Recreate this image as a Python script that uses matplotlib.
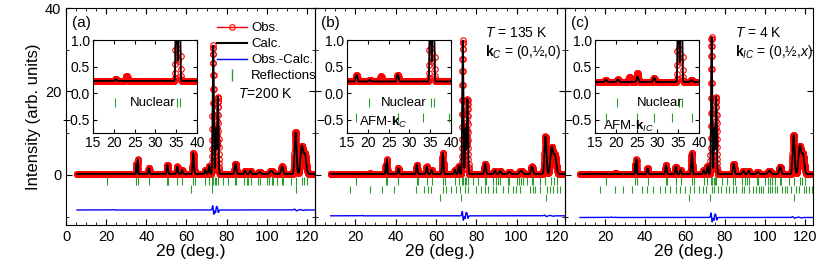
import numpy as np
import matplotlib.pyplot as plt
from matplotlib.ticker import MultipleLocator
from matplotlib.lines import Line2D

plt.rcParams['font.family'] = ['Liberation Sans', 'DejaVu Sans']
plt.rcParams['mathtext.fontset'] = 'custom'
plt.rcParams['mathtext.rm'] = 'Liberation Sans'
plt.rcParams['mathtext.it'] = 'Liberation Sans:italic'
plt.rcParams['mathtext.bf'] = 'Liberation Sans:bold'

# ---- values ----
# nuclear peaks: position (deg), width (deg), height above background per panel
peak_pos = [35.05, 35.75, 41.3, 50.5, 55.4, 57.8, 63.4, 69.4, 71.3, 73.3, 74.7, 75.6,
            84.4, 89.2, 91.8, 96.4, 102.2, 107.6, 114.3, 117.4, 119.0]
peak_fwhm = [0.35, 0.35, 0.7, 0.7, 0.7, 0.7, 0.75, 0.7, 0.7, 0.65, 0.6, 0.65,
             0.9, 0.9, 0.9, 1.2, 1.6, 1.1, 1.1, 1.5, 1.5]
height_a = [2.4, 3.6, 1.4, 2.2, 1.8, 1.0, 5.0, 1.0, 2.0, 30.8, 11.0, 18.5,
            2.5, 0.8, 0.8, 0.5, 0.8, 1.8, 10.0, 6.6, 4.6]
height_b = [2.4, 3.6, 1.4, 2.2, 1.8, 1.0, 5.0, 1.0, 2.0, 32.0, 11.0, 18.0,
            2.5, 0.8, 0.8, 0.5, 0.8, 1.8, 9.0, 6.3, 4.4]
height_c = [2.4, 3.6, 1.4, 2.2, 1.8, 1.0, 5.0, 1.0, 2.0, 32.8, 11.0, 18.5,
            2.5, 0.8, 0.8, 0.5, 0.8, 1.8, 9.4, 6.6, 4.6]
# small calc-vs-obs position mismatch that gives the difference wiggles
calc_shift = [0, 0, 0, 0, 0, 0, 0, 0, 0, 0.015, -0.025, 0.015,
              0, 0, 0, 0, 0, 0, 0.015, 0.015, 0]

# weak features seen in the insets (position, height)
weak_pos_a = [20.5]
weak_h_a = [0.03]
weak_pos_b = [17.3, 20.5, 27.2]
weak_h_b = [0.12, 0.03, 0.13]
weak_pos_c = [17.6, 20.5, 25.2, 29.2, 38.2]
weak_h_c = [0.04, 0.05, 0.1, 0.08, 0.04]
weak_fwhm = 0.5
# bumps in the observed data only
obs_bump_a = [23.1]
obs_bump_h_a = [0.1]
obs_bump_b = [23.2]
obs_bump_h_b = [0.1]
obs_bump_c = [23.3, 25.2]
obs_bump_h_c = [0.1, 0.07]

background = {'a': 0.23, 'b': 0.22, 'c': 0.21}
start_angle = {'a': 5.5, 'b': 7.8, 'c': 7.5}
diff_offset = {'a': -8.4, 'b': -9.8, 'c': -10.2}

# reflection markers
nuclear_ticks = [20.4, 35.1, 35.8, 41.3, 50.4, 50.9, 55.4, 57.8, 63.3, 64.3, 69.4, 71.2,
                 72.9, 73.4, 74.3, 74.8, 75.7, 78.3, 80.9, 84.2, 84.8, 88.4, 89.9, 90.8,
                 92.0, 95.8, 96.4, 100.1, 101.3, 102.4, 103.3, 105.1, 107.4, 108.0,
                 111.8, 114.3, 117.3, 118.6, 119.8]
extra_ticks = [62.1, 72.6, 114.4]
afm_c_ticks = [17.2, 27.2, 33.3, 39.4, 50.1, 54.3, 55.9, 57.6, 63.4, 65.1, 67.6, 70.1,
               71.7, 74.2, 75.9, 80.0, 82.5, 84.2, 85.8, 88.3, 90.0, 93.3, 95.8, 98.3,
               99.9, 101.6, 106.6, 108.2, 109.1, 111.6, 114.9, 116.5, 118.2, 119.9, 121.5]
afm_ic_ticks = [17.7, 25.1, 29.2, 33.6, 38.3, 41.0, 44.0, 47.3, 49.8, 52.3, 55.6, 57.3,
                59.8, 62.3, 64.7, 67.2, 68.9, 70.6, 73.5, 74.7, 76.4, 78.0, 80.5, 82.2,
                83.8, 85.5, 88.5, 89.6, 92.1, 93.8, 95.4, 97.1, 97.9, 99.1, 101.3, 102.4,
                103.7, 105.1, 106.2, 108.7, 110.0, 111.2, 112.9, 115.7, 117.0, 119.5,
                120.7, 122.0, 123.3]

green = '#2a9d2a'


def add_peaks(x, y, pos, height, fwhm):
    for p, h, w in zip(pos, height, fwhm):
        y = y + h * np.exp(-4 * np.log(2) * ((x - p) / w) ** 2)
    return y


def build(key, heights, weak_pos, weak_h, bump_pos, bump_h):
    x = np.arange(start_angle[key], 124.0, 0.05)
    base = np.full_like(x, background[key])
    widths = [weak_fwhm] * len(weak_pos)
    obs = add_peaks(x, base, peak_pos, heights, peak_fwhm)
    obs = add_peaks(x, obs, weak_pos, weak_h, widths)
    obs = add_peaks(x, obs, bump_pos, bump_h, [0.5] * len(bump_pos))
    calc_pos = [p + s for p, s in zip(peak_pos, calc_shift)]
    calc = add_peaks(x, base, calc_pos, heights, peak_fwhm)
    calc = add_peaks(x, calc, weak_pos, weak_h, widths)
    return x, obs, calc


fig = plt.figure(figsize=(8.3, 2.68), dpi=100)
W, H = 830, 268
panels = [
    ('a', 66, 249, 93, height_a, weak_pos_a, weak_h_a, obs_bump_a, obs_bump_h_a),
    ('b', 315, 250, 347, height_b, weak_pos_b, weak_h_b, obs_bump_b, obs_bump_h_b),
    ('c', 565, 248, 595, height_c, weak_pos_c, weak_h_c, obs_bump_c, obs_bump_h_c),
]

for key, left, width, ins_left, hts, wp, wh, bp, bh in panels:
    ax = fig.add_axes([left / W, 43 / H, width / W, 217 / H])
    ax.patch.set_alpha(0)
    x, obs, calc = build(key, hts, wp, wh, bp, bh)
    ax.plot(x, obs, '-o', color='red', lw=0.8, ms=4, mfc='none', mew=0.8)
    ax.plot(x, calc, color='black', lw=1.3)
    ax.plot(x, obs - calc + diff_offset[key], color='blue', lw=1.0)

    ax.vlines(nuclear_ticks, -0.5, -2.3, color=green, lw=0.8)
    if key == 'a':
        ax.vlines(extra_ticks, -2.5, -4.3, color=green, lw=0.8)
    else:
        mag = afm_c_ticks if key == 'b' else afm_ic_ticks
        ax.vlines(mag, -2.6, -4.4, color=green, lw=0.8)
        ax.vlines(extra_ticks, -4.5, -6.2, color=green, lw=0.8)

    ax.set_xlim(0, 124)
    ax.set_ylim(-12, 40)
    ax.xaxis.set_minor_locator(MultipleLocator(5))
    ax.yaxis.set_major_locator(MultipleLocator(20))
    ax.yaxis.set_minor_locator(MultipleLocator(10))
    ax.tick_params(which='both', direction='in', top=True, right=True, labelsize=10.5)
    ax.tick_params(which='major', length=4)
    ax.tick_params(which='minor', length=2)
    if key == 'a':
        ax.set_xticks([0, 20, 40, 60, 80, 100, 120])
        ax.set_ylabel('Intensity (arb. units)', fontsize=12, labelpad=3)
    else:
        ax.set_xticks([20, 40, 60, 80, 100, 120])
        ax.tick_params(labelleft=False)
    ax.set_xlabel('2θ (deg.)', fontsize=12.5, labelpad=0)
    ax.text(0.025, 0.93, '(%s)' % key, transform=ax.transAxes, fontsize=11, va='center')

    if key == 'a':
        handles = [Line2D([], [], color='red', marker='o', ms=4, mfc='none', mew=0.8, lw=1),
                   Line2D([], [], color='black', lw=1.5),
                   Line2D([], [], color='blue', lw=1),
                   Line2D([], [], color=green, marker='|', ls='none', ms=8, mew=1)]
        ax.legend(handles, ['Obs.', 'Calc.', 'Obs.-Calc.', 'Reflections'], loc='upper left',
                  bbox_to_anchor=(0.605, 0.935), frameon=False, fontsize=9.5, numpoints=1,
                  handlelength=2.3, handletextpad=0.3, labelspacing=0.28,
                  borderaxespad=0, borderpad=0)
        ax.text(0.69, 0.605, '$T$=200 K', transform=ax.transAxes, fontsize=10, va='center')
    elif key == 'b':
        ax.text(0.68, 0.885, '$T$ = 135 K', transform=ax.transAxes, fontsize=10, va='center')
        ax.text(0.68, 0.797, r'$\mathbf{k}_{C}$ = (0,½,0)', transform=ax.transAxes,
                fontsize=10, va='center')
    else:
        ax.text(0.685, 0.885, '$T$ = 4 K', transform=ax.transAxes, fontsize=10, va='center')
        ax.text(0.685, 0.797, r'$\mathbf{k}_{IC}$ = (0,½,$x$)', transform=ax.transAxes,
                fontsize=10, va='center')

    # inset: zoom on the low-angle region
    ins = fig.add_axes([ins_left / W, 135 / H, 104 / W, 93 / H])
    ins.plot(x, obs, '-o', color='red', lw=0.8, ms=4, mfc='none', mew=0.8)
    ins.plot(x, calc, color='black', lw=1.3)
    ins.vlines(nuclear_ticks, -0.1, -0.27, color=green, lw=0.8)
    if key == 'a':
        ins.text(29.4, -0.19, 'Nuclear', fontsize=9.5, ha='center', va='center')
    elif key == 'b':
        ins.vlines(afm_c_ticks, -0.38, -0.55, color=green, lw=0.8)
        ins.text(28.6, -0.19, 'Nuclear', fontsize=9.5, ha='center', va='center')
        ins.text(18.0, -0.56, r'AFM-$\mathbf{k}_{C}$', fontsize=9.5, va='center')
    else:
        ins.vlines(afm_ic_ticks, -0.38, -0.55, color=green, lw=0.8)
        ins.text(30.5, -0.19, 'Nuclear', fontsize=9.5, ha='center', va='center')
        ins.text(17.0, -0.62, r'AFM-$\mathbf{k}_{IC}$', fontsize=9.5, va='center')
    ins.set_xlim(15, 40)
    ins.set_ylim(-0.75, 1.0)
    ins.xaxis.set_major_locator(MultipleLocator(5))
    ins.yaxis.set_major_locator(MultipleLocator(0.5))
    ins.tick_params(direction='in', top=True, right=True, labelsize=10, length=3, pad=2)

fig.savefig('out.png', dpi=100)
